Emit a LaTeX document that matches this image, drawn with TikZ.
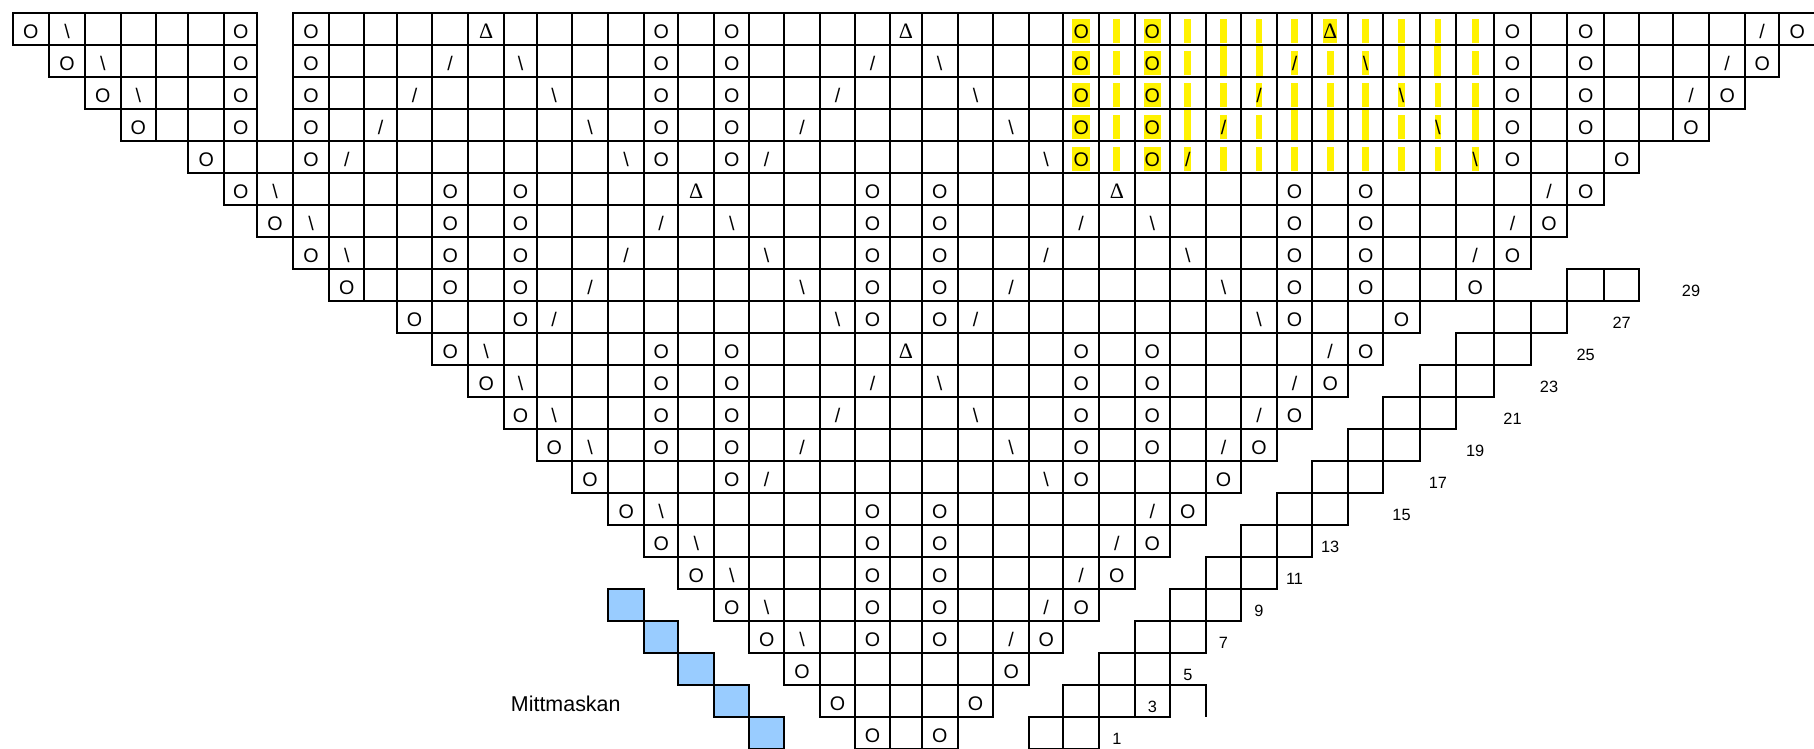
\documentclass[tikz,border=0pt]{standalone}
\usepackage{fontspec}
\setmainfont{Liberation Sans}
\newfontfamily\deltafont{Liberation Serif}
\definecolor{midblue}{HTML}{99CCFF}

% left edges of the 51 chart columns (and the last right edge)
\def\colx{{12.7,49,85,120.7,156,188.3,224,257.3,292.7,329.3,364.3,396.7,432.3,468,504.3,536.7,571.7,608.3,644,678.3,714.3,749.3,784,820,855,890,921.7,957.7,993.3,1029,1063.3,1099,1134.7,1170,1205.7,1241.3,1276.7,1312.3,1348,1383.3,1419.8,1456,1494.3,1530.7,1567.3,1604,1639.3,1672.7,1709.3,1745,1779.3,1815}}
\newcommand\cellpos[2]{%
  \pgfmathsetmacro\cxa{\colx[#2]}%
  \pgfmathsetmacro\cxb{\colx[#2+1]}%
  \pgfmathsetmacro\cxm{(\cxa+\cxb)/2}%
  \pgfmathsetmacro\cyt{12.7+32*(#1-1)}%
  \pgfmathsetmacro\cyb{\cyt+32}}

\begin{document}
\begin{tikzpicture}[x=0.02cm, y=-0.02cm,
        cell/.style={draw=black, line width=1pt},
        sym/.style={anchor=base, inner sep=0pt, font=\fontsize{11.2}{12}\selectfont},
        tri/.style={anchor=base, inner sep=0pt, font=\deltafont\fontsize{12.5}{13}\selectfont},
        num/.style={anchor=base, inner sep=0pt, font=\fontsize{9.3}{10}\selectfont},
        hl/.style={fill=yellow}
    ]
    \useasboundingbox (0,0) rectangle (1814,748);
    \clip (0,0) rectangle (1814,748);

    % yellow marking, rows 1-5
    \foreach \rr in {1,...,5}{
        \foreach \c in {30,...,41}{
            \cellpos{\rr}{\c}
            \pgfmathsetmacro\hw{(\c==30||\c==32)?8.7:((\rr==1&&\c==37)?6.7:3.4)}
            \fill[hl] (\cxm-\hw,\cyt+6.3) rectangle (\cxm+\hw,\cyt+30);
        }
    }
    \foreach \rr/\c in {2/34,2/35,2/39,2/40,4/33,4/36,4/37,4/38,4/41}{
        \cellpos{\rr}{\c}
        \fill[hl] (\cxm-3.5,\cyt+0.5) rectangle (\cxm+3.5,\cyb-0.5);
    }

    % chart cells
    \foreach \rr/\ca/\cb in {1/0/6, 1/8/50, 2/1/6, 2/8/49, 3/2/6, 3/8/48, 4/3/6, 4/8/47,
            5/5/45, 6/6/44, 7/7/43, 8/8/42, 9/9/41, 10/11/39, 11/12/38, 12/13/37,
            13/14/36, 14/15/35, 15/16/34, 16/17/33, 17/18/32, 18/19/31, 19/20/30,
            20/21/29, 21/22/28, 22/23/27, 23/24/26,
            9/44/45, 10/42/43, 11/41/42, 12/40/41, 13/39/40, 14/38/39, 15/37/38,
            16/36/37, 17/35/36, 18/34/35, 19/33/34, 20/32/33, 21/31/32, 22/30/32, 23/29/30}{
        \foreach \c in {\ca,...,\cb}{
            \cellpos{\rr}{\c}
            \draw[cell] (\cxa,\cyt) rectangle (\cxb,\cyb);
        }
    }
    \cellpos{22}{33}
    \draw[cell] (\cxa,\cyt) -- (\cxb,\cyt) -- (\cxb,\cyb);

    % centre stitch
    \foreach \rr/\c in {19/17, 20/18, 21/19, 22/20, 23/21}{
        \cellpos{\rr}{\c}
        \draw[cell, fill=midblue] (\cxa,\cyt) rectangle (\cxb,\cyb);
    }

    % symbols
    \foreach \rr/\cols in {1/{0,6,8,18,20,30,32,42,44,50}, 2/{1,6,8,18,20,30,32,42,44,49},
            3/{2,6,8,18,20,30,32,42,44,48}, 4/{3,6,8,18,20,30,32,42,44,47},
            5/{5,8,18,20,30,32,42,45}, 6/{6,12,14,24,26,36,38,44}, 7/{7,12,14,24,26,36,38,43},
            8/{8,12,14,24,26,36,38,42}, 9/{9,12,14,24,26,36,38,41}, 10/{11,14,24,26,36,39},
            11/{12,18,20,30,32,38}, 12/{13,18,20,30,32,37}, 13/{14,18,20,30,32,36},
            14/{15,18,20,30,32,35}, 15/{16,20,30,34}, 16/{17,24,26,33}, 17/{18,24,26,32},
            18/{19,24,26,31}, 19/{20,24,26,30}, 20/{21,24,26,29}, 21/{22,28}, 22/{23,27}, 23/{24,26}}{
        \foreach \c in \cols{
            \cellpos{\rr}{\c}
            \node[sym] (o\rr-\c) at (\cxm,\cyt+26) {O};
        }
    }
    \foreach \rr/\cols in {1/{1}, 2/{2,14,26,38}, 3/{3,15,27,39}, 4/{16,28,40}, 5/{17,29,41},
            6/{7}, 7/{8,20,32}, 8/{9,21,33}, 9/{22,34}, 10/{23,35}, 11/{13}, 12/{14,26},
            13/{15,27}, 14/{16,28}, 15/{29}, 16/{18}, 17/{19}, 18/{20}, 19/{21}, 20/{22}}{
        \foreach \c in \cols{
            \cellpos{\rr}{\c}
            \node[sym] (k\rr-\c) at (\cxm,\cyt+26) {\textbackslash};
        }
    }
    \foreach \rr/\cols in {1/{49}, 2/{12,24,36,48}, 3/{11,23,35,47}, 4/{10,22,34}, 5/{9,21,33},
            6/{43}, 7/{18,30,42}, 8/{17,29,41}, 9/{16,28}, 10/{15,27}, 11/{37}, 12/{24,36},
            13/{23,35}, 14/{22,34}, 15/{21}, 16/{32}, 17/{31}, 18/{30}, 19/{29}, 20/{28}}{
        \foreach \c in \cols{
            \cellpos{\rr}{\c}
            \node[sym] (f\rr-\c) at (\cxm,\cyt+26) {/};
        }
    }
    \foreach \rr/\c in {1/13, 1/25, 1/37, 6/19, 6/31, 11/25}{
        \cellpos{\rr}{\c}
        \node[tri] (d\rr-\c) at (\cxm,\cyt+26) {Δ};
    }

    % row numbers
    \foreach \n/\rr/\c in {29/9/47, 27/10/45, 25/11/44, 23/12/43, 21/13/42, 19/14/41, 17/15/40,
            15/16/39, 13/17/37, 11/18/36, 9/19/35, 7/20/34, 5/21/33, 3/22/32, 1/23/31}{
        \cellpos{\rr}{\c}
        \node[num] (n\n) at (\cxm,\cyt+27.8) {\n};
    }

    \node[anchor=base west, inner sep=0pt, font=\fontsize{12.2}{13}\selectfont] (mitt) at (510.6,711) {Mittmaskan};
\end{tikzpicture}
\end{document}
